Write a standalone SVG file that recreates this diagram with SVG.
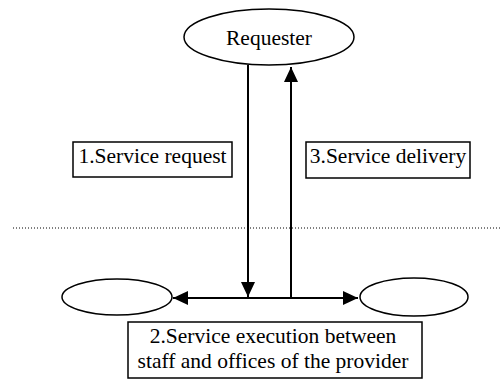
<svg xmlns="http://www.w3.org/2000/svg" width="500" height="379" viewBox="0 0 500 379">
<style>
.shape{fill:#fff;stroke:#000;stroke-width:1.5}
.lbl{font-family:"Liberation Serif","Times New Roman",serif;font-size:21.5px;fill:#000;text-anchor:middle}
.conn{stroke:#000;stroke-width:2;fill:none}
</style>
<defs>
<marker id="ah" markerUnits="userSpaceOnUse" markerWidth="16" markerHeight="16" viewBox="0 0 16 16" refX="15" refY="8" orient="auto">
<path d="M0,1 L15,8 L0,15 Z" fill="#000"/>
</marker>
</defs>
<rect width="500" height="379" fill="#fff"/>
<line x1="13" y1="228" x2="500" y2="228" stroke="#000" stroke-width="1" stroke-dasharray="1,2"/>
<g id="connectors">
<line class="conn" x1="248" y1="65" x2="248" y2="297" marker-end="url(#ah)"/>
<line class="conn" x1="291" y1="299" x2="291" y2="67" marker-end="url(#ah)"/>
<line class="conn" x1="265" y1="298" x2="173" y2="298" marker-end="url(#ah)"/>
<line class="conn" x1="265" y1="298" x2="358" y2="298" marker-end="url(#ah)"/>
</g>
<g id="requester">
<ellipse class="shape" cx="269" cy="37" rx="85" ry="28"/>
<text class="lbl" x="269" y="45">Requester</text>
</g>
<g id="office-left">
<ellipse class="shape" cx="117" cy="297" rx="55" ry="18"/>
</g>
<g id="office-right">
<ellipse class="shape" cx="414" cy="297" rx="54" ry="19"/>
</g>
<g id="label-request">
<rect class="shape" x="73" y="142" width="159" height="35"/>
<text class="lbl" x="152.5" y="163">1.Service request</text>
</g>
<g id="label-delivery">
<rect class="shape" x="306" y="142" width="164" height="36"/>
<text class="lbl" x="388" y="163">3.Service delivery</text>
</g>
<g id="label-execution">
<rect class="shape" x="128" y="322" width="294" height="56"/>
<text class="lbl" x="273" y="343">2.Service execution between</text>
<text class="lbl" x="273" y="368">staff and offices of the provider</text>
</g>
</svg>
